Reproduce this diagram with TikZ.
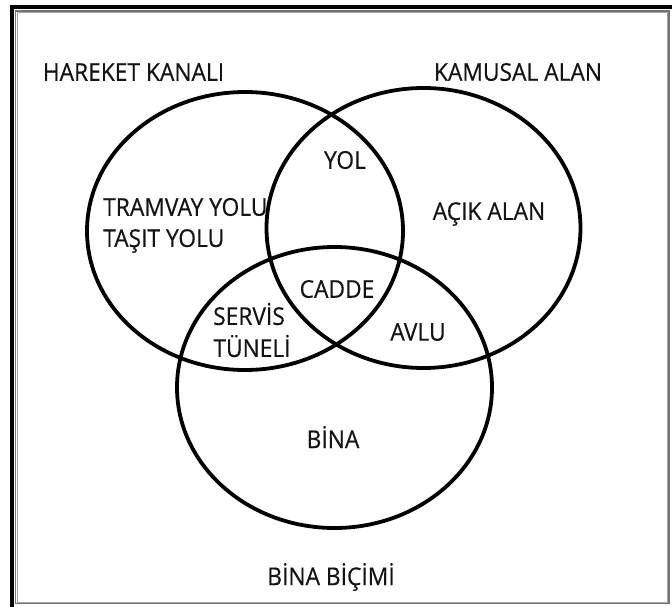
\documentclass[tikz,border=0pt]{standalone}
\usepackage{fontspec}
\setmainfont[FakeStretch=0.93,FakeBold=0.4]{Open Sans}
\usetikzlibrary{shapes.geometric}
\begin{document}
\begin{tikzpicture}[x=1pt,y=-1pt,
  venn/.style={draw=black, line width=3.8pt, ellipse, inner sep=0pt, outer sep=0pt},
  lbl/.style={font=\fontsize{24.5}{30}\selectfont, inner sep=0pt, text=black!92},
  lbll/.style={lbl, anchor=west, align=left}]
\useasboundingbox (0,0) rectangle (672,607);
\fill[white] (0,0) rectangle (672,607);
% frame
\draw[line width=4pt, black] (12,7) rectangle (674,609);
\draw[line width=1.2pt, black!55] (15.5,11) rectangle (669,603.5);
\draw[line width=0.8pt, black!35] (17,12.5) rectangle (667.5,602);
% circles
\node[venn, minimum width=316pt, minimum height=278pt] (hk) at (245,231) {};
\node[venn, minimum width=314pt, minimum height=280pt] (ka) at (423.5,228) {};
\node[venn, minimum width=315pt, minimum height=281pt] (bb) at (334.5,387.5) {};
% labels
\node[lbl] (t1) at (133.5,72) {HAREKET KANALI};
\node[lbl] (t2) at (518,72) {KAMUSAL ALAN};
\node[lbl] (t3) at (345,160) {YOL};
\node[lbll] (t4) at (103,207) {TRAMVAY YOLU};
\node[lbll] (t5) at (103,241) {TAŞIT YOLU};
\node[lbl] (t6) at (489,214) {AÇIK ALAN};
\node[lbl] (t7) at (337,289) {CADDE};
\node[lbl] (t8) at (249,314) {SERVİS};
\node[lbl] (t9) at (252,346) {TÜNELİ};
\node[lbl] (t10) at (418,332) {AVLU};
\node[lbl] (t11) at (333,437) {BİNA};
\node[lbl] (t12) at (331,577) {BİNA BİÇİMİ};
\end{tikzpicture}
\end{document}
